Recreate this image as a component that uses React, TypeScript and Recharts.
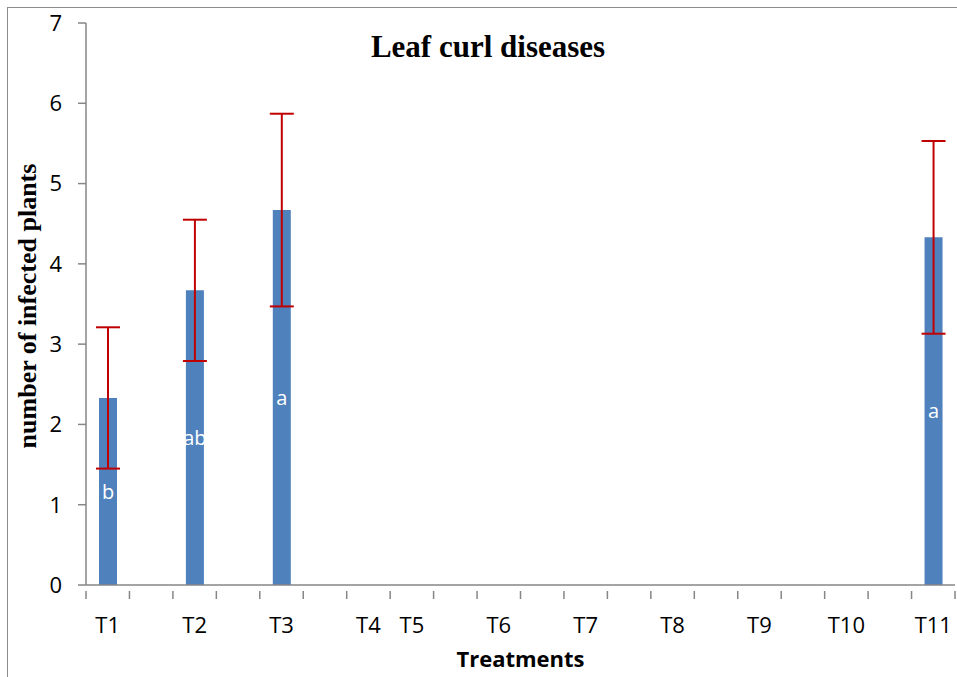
import { BarChart, Bar, XAxis, YAxis, ErrorBar, LabelList, Label } from "recharts";

// 20 slots on the category axis; blank slots carry no bar
const slotLabels = ["T1", "", "T2", "", "T3", "", "T4", "T5", "", "T6", "", "T7", "", "T8", "", "T9", "", "T10", "", "T11"];
const means = [2.33, null, 3.67, null, 4.67, null, 0, 0, null, 0, null, 0, null, 0, null, 0, null, 0, null, 4.33];
const errors = [0.88, null, 0.88, null, 1.2, null, 0, 0, null, 0, null, 0, null, 0, null, 0, null, 0, null, 1.2];
const letters = ["b", "", "ab", "", "a", "", "", "", "", "", "", "", "", "", "", "", "", "", "", "a"];
const yTicks = [0, 1, 2, 3, 4, 5, 6, 7];

const data = slotLabels.map((label, i) => ({
  slot: i,
  label,
  value: means[i],
  err: errors[i],
  letter: letters[i],
}));

const W = 957;
const H = 677;
const MARGIN = { top: 23, right: 2, bottom: 42, left: 26 };
const Y_AXIS_W = 60;
const BAND = (W - MARGIN.left - Y_AXIS_W - MARGIN.right) / slotLabels.length;
const AXIS_GREY = "#868686";
const SANS = "'Open Sans', sans-serif";
const SERIF = "'Liberation Serif', 'Times New Roman', serif";

// tick marks sit on the band edges, labels in the band centre
const XTick = (props: any) => {
  const { x, y, payload, index } = props;
  const left = x - BAND / 2;
  const isLast = index === slotLabels.length - 1;
  return (
    <g>
      <line x1={left} y1={y} x2={left} y2={y + 8} stroke={AXIS_GREY} strokeWidth={1.5} />
      {isLast && (
        <line x1={x + BAND / 2} y1={y} x2={x + BAND / 2} y2={y + 8} stroke={AXIS_GREY} strokeWidth={1.5} />
      )}
      <text x={x} y={y + 42} textAnchor="middle" fontSize={22} fontFamily={SANS} fill="#000">
        {slotLabels[payload.value]}
      </text>
    </g>
  );
};

export default function App() {
  return (
    <div style={{ position: "absolute", left: 0, top: 0, width: W, height: H, overflow: "hidden", background: "#fff" }}>
      <div
        style={{
          position: "absolute",
          left: 7,
          top: 7,
          width: 1000,
          height: 1000,
          border: "1px solid #8c8c8c",
        }}
      />
      <div style={{ position: "absolute", left: 0, top: 0 }}>
        <BarChart width={W} height={H} data={data} margin={MARGIN} barSize={18}>
          <XAxis
            dataKey="slot"
            type="category"
            tick={<XTick />}
            tickLine={false}
            tickMargin={0}
            interval={0}
            height={50}
            axisLine={{ stroke: AXIS_GREY, strokeWidth: 1.5 }}
          >
            <Label
              value="Treatments"
              position="insideBottom"
              offset={-32}
              fontSize={22}
              fontWeight="bold"
              fontFamily={SANS}
              fill="#000"
            />
          </XAxis>
          <YAxis
            domain={[0, 7]}
            ticks={yTicks}
            width={Y_AXIS_W}
            tickSize={8}
            tickMargin={16}
            axisLine={{ stroke: AXIS_GREY, strokeWidth: 1.5 }}
            tickLine={{ stroke: AXIS_GREY, strokeWidth: 1.5 }}
            tick={{ fontSize: 22, fontFamily: SANS, fill: "#000" }}
          />
          <Bar dataKey="value" fill="#4F81BD" isAnimationActive={false}>
            <ErrorBar dataKey="err" width={12} strokeWidth={2} stroke="#C00000" direction="y" />
            <LabelList dataKey="letter" position="center" fill="#fff" fontSize={20} fontFamily={SANS} />
          </Bar>
          <text x={488} y={57} textAnchor="middle" fontSize={31} fontWeight="bold" fontFamily={SERIF} fill="#000">
            Leaf curl diseases
          </text>
          <text
            transform="translate(36,306) rotate(-90)"
            textAnchor="middle"
            fontSize={26}
            fontWeight="bold"
            fontFamily={SERIF}
            fill="#000"
          >
            number of infected plants
          </text>
        </BarChart>
      </div>
    </div>
  );
}
